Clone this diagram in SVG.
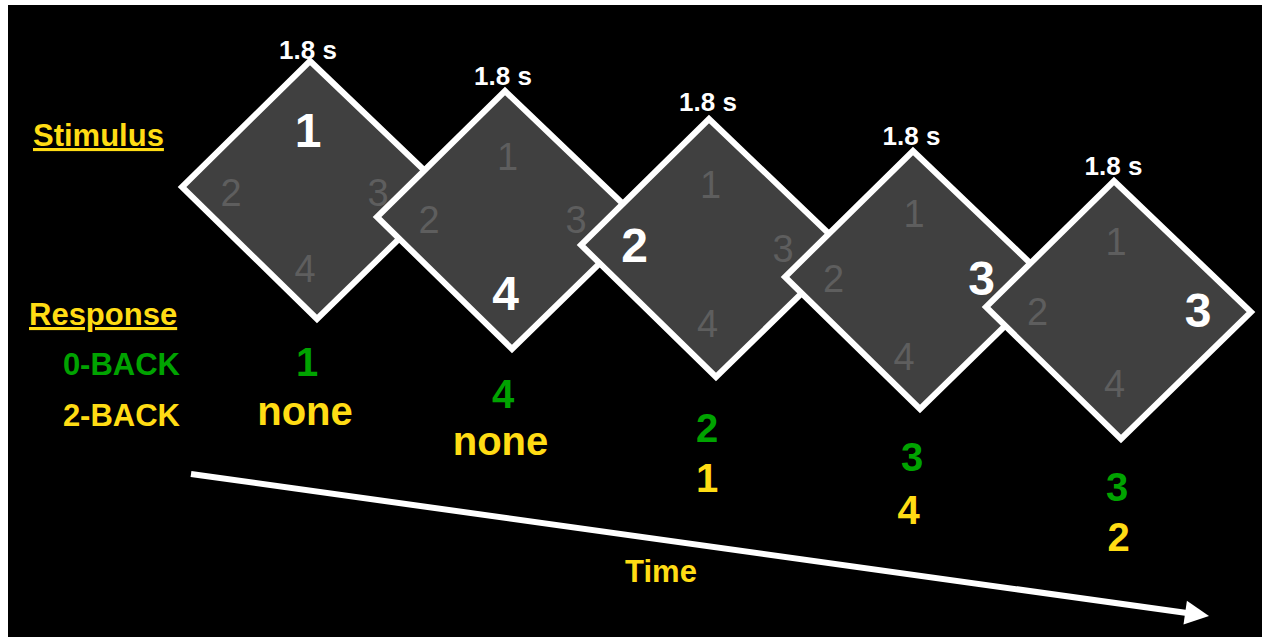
<svg xmlns="http://www.w3.org/2000/svg" xmlns:xlink="http://www.w3.org/1999/xlink" width="1262" height="637" viewBox="0 0 1262 637">
<style>
text{font-family:"Liberation Sans",Arial,sans-serif;}
.dia{fill:#404040;stroke:#ffffff;stroke-width:6;stroke-linejoin:miter;}
.g{fill:#5e5e5e;font-size:38px;text-anchor:middle;}
.w{fill:#ffffff;font-size:48px;font-weight:bold;text-anchor:middle;}
.t{fill:#ffffff;font-size:26px;font-weight:bold;text-anchor:middle;}
.lab{font-size:31px;font-weight:bold;}
.y{fill:#ffdc14;}
.gr{fill:#00a300;}
.r{font-size:40px;font-weight:bold;text-anchor:middle;}
</style>
<defs>
<polygon id="d" class="dia" points="0,4 137,135 7,262 -128,130"/>
</defs>
<rect x="0" y="0" width="1262" height="637" fill="#ffffff"/>
<rect x="8" y="5" width="1254" height="632" fill="#000000"/>

<g id="labels">
<text class="lab y" x="33" y="146" text-decoration="underline">Stimulus</text>
<text class="lab y" x="29" y="325" text-decoration="underline">Response</text>
<text class="lab gr" x="180" y="375" text-anchor="end">0-BACK</text>
<text class="lab y" x="180" y="426" text-anchor="end">2-BACK</text>
</g>

<g id="stim1">
<use xlink:href="#d" x="310" y="57"/>
<text class="w" x="308" y="147">1</text>
<text class="g" x="231" y="206">2</text>
<text class="g" x="378" y="206">3</text>
<text class="g" x="305" y="282">4</text>
<text class="t" x="308" y="59">1.8 s</text>
</g>
<g id="stim2">
<use xlink:href="#d" x="505" y="87"/>
<text class="g" x="507.5" y="170">1</text>
<text class="g" x="429" y="233">2</text>
<text class="g" x="576" y="233">3</text>
<text class="w" x="505.5" y="310">4</text>
<text class="t" x="503" y="85">1.8 s</text>
</g>
<g id="stim3">
<use xlink:href="#d" x="709" y="115"/>
<text class="g" x="710.5" y="198">1</text>
<text class="w" x="634.5" y="262">2</text>
<text class="g" x="783" y="262">3</text>
<text class="g" x="707.5" y="337">4</text>
<text class="t" x="708" y="111">1.8 s</text>
</g>
<g id="stim4">
<use xlink:href="#d" x="913" y="147"/>
<text class="g" x="914" y="227">1</text>
<text class="g" x="833.5" y="292">2</text>
<text class="w" x="981.5" y="295">3</text>
<text class="g" x="904" y="370">4</text>
<text class="t" x="911.5" y="145">1.8 s</text>
</g>
<g id="stim5">
<use xlink:href="#d" x="1114" y="177"/>
<text class="g" x="1116" y="255">1</text>
<text class="g" x="1037.5" y="325">2</text>
<text class="w" x="1198" y="327">3</text>
<text class="g" x="1114.5" y="397">4</text>
<text class="t" x="1113.5" y="175">1.8 s</text>
</g>

<g id="responses">
<text class="r gr" x="307" y="376">1</text>
<text class="r y" x="305" y="425">none</text>
<text class="r gr" x="503" y="408">4</text>
<text class="r y" x="500.5" y="455">none</text>
<text class="r gr" x="707" y="442">2</text>
<text class="r y" x="707" y="492">1</text>
<text class="r gr" x="912" y="471">3</text>
<text class="r y" x="908.5" y="524">4</text>
<text class="r gr" x="1117" y="501">3</text>
<text class="r y" x="1118.5" y="551">2</text>
</g>

<g id="connectors">
<line x1="191" y1="474" x2="1187" y2="613" stroke="#ffffff" stroke-width="6"/>
<polygon points="1209,616 1186.9,600.8 1183.5,624.6" fill="#ffffff"/>
</g>
<text class="lab y" x="661" y="582" text-anchor="middle">Time</text>
</svg>
